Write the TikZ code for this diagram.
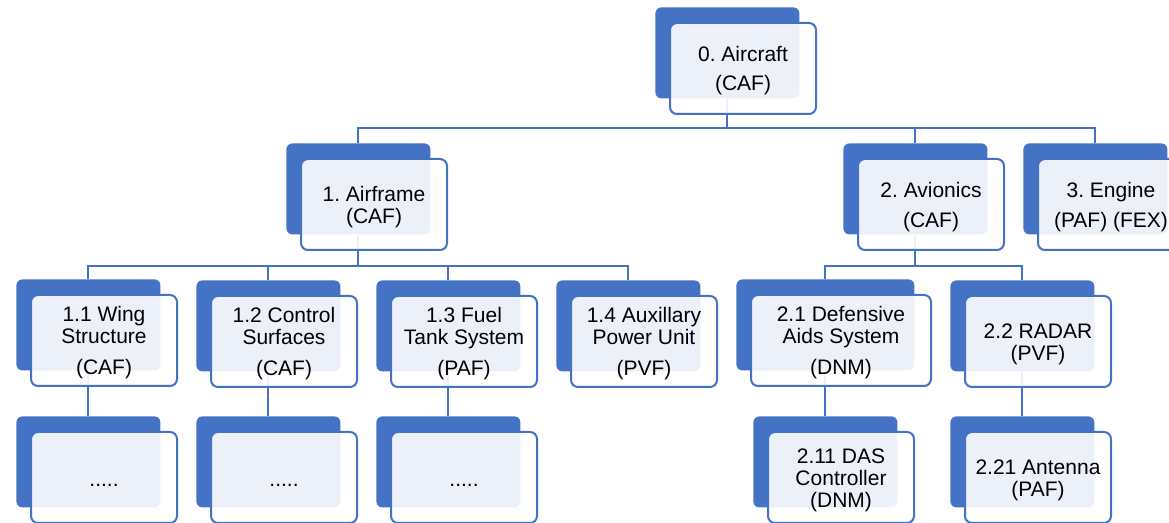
\documentclass[tikz,border=0pt]{standalone}
\usepackage{fontspec}
\setmainfont{Liberation Sans}
\frenchspacing
\definecolor{acc}{HTML}{4472C4}
\tikzset{
  back/.style={draw=none, fill=acc, rounded corners=3pt, minimum width=72pt,
    minimum height=45.5pt, anchor=north west, inner sep=0pt},
  front/.style={draw=acc, line width=1pt, fill=white, fill opacity=0.9,
    rounded corners=3.5pt, minimum width=73pt,
    minimum height=45.5pt, anchor=north west, inner sep=0pt},
  txt/.style={inner sep=0pt, align=center,
    font=\fontsize{10.5}{11}\selectfont},
  link/.style={draw=acc, line width=1pt},
}
\begin{document}
\begin{tikzpicture}[x=0.5pt, y=-0.5pt]
\useasboundingbox (0,0) rectangle (1169,523);
\clip (0,0) rectangle (1169,523);
% dark back boxes
\node[back] (d0) at (655,7) {};
\node[back] (d1) at (286,143) {};
\node[back] (d2) at (843,143) {};
\node[back] (d3) at (1023,143) {};
\node[back] (d11) at (16,279) {};
\node[back] (d12) at (196,280) {};
\node[back] (d13) at (376,280) {};
\node[back] (d14) at (556,280) {};
\node[back, minimum width=89pt] (d21) at (736,279) {};
\node[back] (d22) at (950,280) {};
\node[back] (d111) at (16,416) {};
\node[back] (d121) at (196,416) {};
\node[back] (d131) at (376,416) {};
\node[back] (d211) at (753,416) {};
\node[back] (d221) at (950,416) {};
% connectors
\draw[link] (d0.south) -- ++(0,29) -| (d1.north);
\draw[link] (d0.south) -- ++(0,29) -| (d2.north);
\draw[link] (d0.south) -- ++(0,29) -| (d3.north);
\draw[link] (d1.south) -- ++(0,31) -| (d11.north);
\draw[link] (d1.south) -- ++(0,31) -| (d12.north);
\draw[link] (d1.south) -- ++(0,31) -| (d13.north);
\draw[link] (d1.south) -- ++(0,31) -| (d14.north);
\draw[link] (d2.south) -- ++(0,31) -| (d21.north);
\draw[link] (d2.south) -- ++(0,31) -| (d22.north);
\draw[link] (d11.south) -- (d111.north);
\draw[link] (d12.south) -- (d121.north);
\draw[link] (d13.south) -- (d131.north);
\draw[link] (d21.south) -- (d211.north);
\draw[link] (d22.south) -- (d221.north);
% front boxes
\node[front] (f0) at ([shift={(14,15)}]d0.north west) {};
\node[front] (f1) at ([shift={(14,15)}]d1.north west) {};
\node[front] (f2) at ([shift={(14,15)}]d2.north west) {};
\node[front] (f3) at ([shift={(14,15)}]d3.north west) {};
\node[front] (f11) at ([shift={(14,15)}]d11.north west) {};
\node[front] (f12) at ([shift={(14,15)}]d12.north west) {};
\node[front] (f13) at ([shift={(14,15)}]d13.north west) {};
\node[front] (f14) at ([shift={(14,15)}]d14.north west) {};
\node[front, minimum width=90pt] (f21) at ([shift={(14,15)}]d21.north west) {};
\node[front] (f22) at ([shift={(14,15)}]d22.north west) {};
\node[front] (f111) at ([shift={(14,15)}]d111.north west) {};
\node[front] (f121) at ([shift={(14,15)}]d121.north west) {};
\node[front] (f131) at ([shift={(14,15)}]d131.north west) {};
\node[front] (f211) at ([shift={(14,15)}]d211.north west) {};
\node[front] (f221) at ([shift={(14,15)}]d221.north west) {};
% texts
\node[txt] (t0) at ([yshift=-1.2pt]f0.center) {0. Aircraft\\[3.5pt](CAF)};
\node[txt] (t1) at ([yshift=-1.2pt]f1.center) {1. Airframe\\(CAF)};
\node[txt] (t2) at ([yshift=-1.2pt]f2.center) {2. Avionics\\[4pt](CAF)};
\node[txt] (t3) at ([yshift=-1.2pt]f3.center) {3. Engine\\[4pt](PAF) (FEX)};
\node[txt] (t11) at ([yshift=-1.2pt]f11.center) {1.1 Wing\\Structure\\[4.5pt](CAF)};
\node[txt] (t12) at ([yshift=-1.2pt]f12.center) {1.2 Control\\Surfaces\\[4.5pt](CAF)};
\node[txt] (t13) at ([yshift=-1.2pt]f13.center) {1.3 Fuel\\Tank System\\[4.5pt](PAF)};
\node[txt] (t14) at ([yshift=-1.2pt]f14.center) {1.4 Auxillary\\Power Unit\\[4.5pt](PVF)};
\node[txt] (t21) at ([yshift=-1.2pt]f21.center) {2.1 Defensive\\Aids System\\[4.5pt](DNM)};
\node[txt] (t22) at ([yshift=-1.2pt]f22.center) {2.2 RADAR\\(PVF)};
\node[txt] (t111) at ([yshift=-2.5pt]f111.center) {\strut.....};
\node[txt] (t121) at ([yshift=-2.5pt]f121.center) {\strut.....};
\node[txt] (t131) at ([yshift=-2.5pt]f131.center) {\strut.....};
\node[txt] (t211) at ([yshift=-1.2pt]f211.center) {2.11 DAS\\Controller\\(DNM)};
\node[txt] (t221) at ([yshift=-1.2pt]f221.center) {2.21 Antenna\\(PAF)};
\end{tikzpicture}
\end{document}
